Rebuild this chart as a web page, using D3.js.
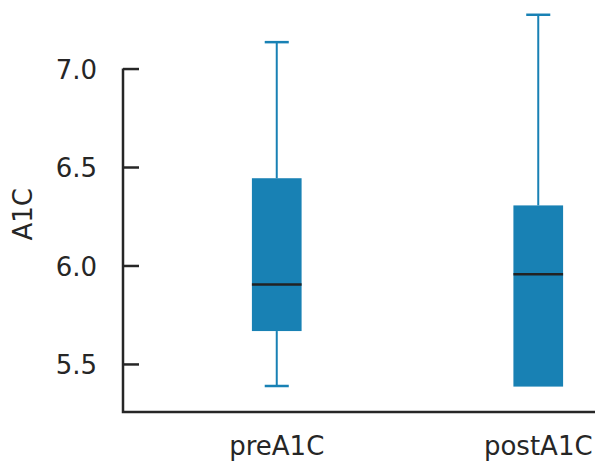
<!DOCTYPE html>
<html>
<head>
<meta charset="utf-8">
<script src="https://cdn.jsdelivr.net/npm/d3@7"></script>
<style>
  body { margin: 0; background: #fff; }
  text { font-family: "DejaVu Sans", Verdana, sans-serif; fill: #262626; }
</style>
</head>
<body>
<div id="chart-area"></div>
<script>
// values
var categories = ["preA1C", "postA1C"];
var whiskerLow = [5.388, 5.385];
var q1 = [5.667, 5.385];
var median = [5.904, 5.955];
var q3 = [6.443, 6.305];
var whiskerHigh = [7.134, 7.273];
var yTicks = [5.5, 6.0, 6.5, 7.0];

var data = categories.map(function (c, i) {
    return { name: c, lo: whiskerLow[i], q1: q1[i], med: median[i], q3: q3[i], hi: whiskerHigh[i] };
});

var width = 595, height = 462;
var spineX = 123, baseY = 412;

var svg = d3.select("#chart-area")
    .append("svg")
    .attr("width", width)
    .attr("height", height);

// SCALES
var x = d3.scaleBand()
    .domain(categories)
    .range([146, 669]);

var y = d3.scaleLinear()
    .domain([5.256, 7.348])
    .range([baseY, 0]);

var boxW = x.bandwidth() * 0.19;
var capW = x.bandwidth() * 0.092;
var blue = "#1881b4";

// whiskers
var g = svg.selectAll("g.box")
    .data(data)
    .enter()
    .append("g")
    .attr("class", "box")
    .attr("transform", function (d) { return "translate(" + (x(d.name) + x.bandwidth() / 2) + ",0)"; });

g.append("line")
    .attr("y1", function (d) { return y(d.hi); })
    .attr("y2", function (d) { return y(d.q3); })
    .attr("stroke", blue).attr("stroke-width", 2);
g.append("line")
    .attr("y1", function (d) { return y(d.q1); })
    .attr("y2", function (d) { return y(d.lo); })
    .attr("stroke", blue).attr("stroke-width", 2);
g.append("line")
    .attr("x1", -capW / 2).attr("x2", capW / 2)
    .attr("y1", function (d) { return y(d.hi); })
    .attr("y2", function (d) { return y(d.hi); })
    .attr("stroke", blue).attr("stroke-width", 2.5);
g.append("line")
    .attr("x1", -capW / 2).attr("x2", capW / 2)
    .attr("y1", function (d) { return y(d.lo); })
    .attr("y2", function (d) { return y(d.lo); })
    .attr("stroke", blue).attr("stroke-width", 2.5)
    .attr("display", function (d) { return d.lo < d.q1 ? null : "none"; });

// boxes
g.append("rect")
    .attr("x", -boxW / 2)
    .attr("width", boxW)
    .attr("y", function (d) { return y(d.q3); })
    .attr("height", function (d) { return y(d.q1) - y(d.q3); })
    .attr("fill", blue);

// medians
g.append("line")
    .attr("x1", -boxW / 2).attr("x2", boxW / 2)
    .attr("y1", function (d) { return y(d.med); })
    .attr("y2", function (d) { return y(d.med); })
    .attr("stroke", "#222").attr("stroke-width", 2.5);

// Y axis
var yAxis = d3.axisLeft(y)
    .tickValues(yTicks)
    .tickFormat(d3.format(".1f"))
    .tickSizeInner(-16)
    .tickSizeOuter(0)
    .tickPadding(26);

var yg = svg.append("g")
    .attr("transform", "translate(" + spineX + ",0)")
    .call(yAxis);
yg.select(".domain").remove();
yg.selectAll(".tick line").attr("stroke", "#262626").attr("stroke-width", 2.5);
yg.selectAll(".tick text")
    .attr("font-size", 26)
    .attr("font-family", "DejaVu Sans, Verdana, sans-serif")
    .attr("fill", "#262626")
    .attr("dy", "0.37em");

// X axis
var xAxis = d3.axisBottom(x)
    .tickSize(0)
    .tickPadding(25);
var xg = svg.append("g")
    .attr("transform", "translate(0," + baseY + ")")
    .call(xAxis);
xg.select(".domain").remove();
xg.selectAll(".tick text")
    .attr("font-size", 26)
    .attr("font-family", "DejaVu Sans, Verdana, sans-serif")
    .attr("fill", "#262626");

// spines
svg.append("path")
    .attr("d", "M" + spineX + "," + y(7.0) + "V" + baseY + "H" + width)
    .attr("fill", "none")
    .attr("stroke", "#262626")
    .attr("stroke-width", 2.5);

// Y label
svg.append("text")
    .attr("transform", "translate(32," + (y(6.26)) + ") rotate(-90)")
    .attr("text-anchor", "middle")
    .attr("font-size", 26)
    .text("A1C");
</script>
</body>
</html>
